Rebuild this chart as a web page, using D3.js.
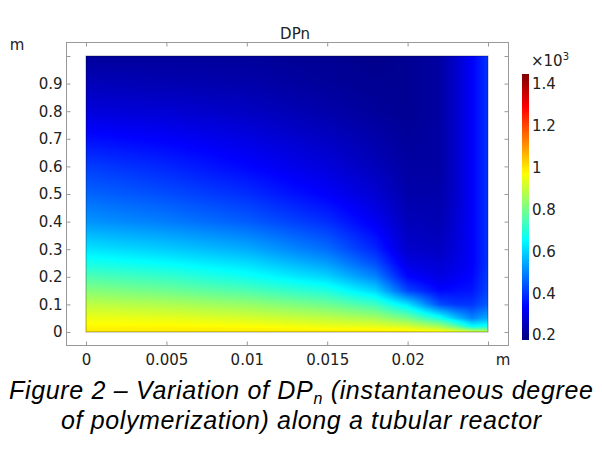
<!DOCTYPE html>
<html>
<head>
<meta charset="utf-8">
<script src="https://cdn.jsdelivr.net/npm/d3@7"></script>
<style>
  body { margin: 0; background: #fff; }
  svg { display: block; }
  .tick text { font-family: "DejaVu Sans", sans-serif; font-size: 15px; fill: #222; }
  .tick line { stroke: #999; }
</style>
</head>
<body>
<div id="chart"></div>
<script>
var xGrid = [0, 0.005, 0.01, 0.015, 0.018, 0.02, 0.022, 0.023, 0.024, 0.025];
var yGrid = [0, 0.02, 0.05, 0.1, 0.15, 0.2, 0.25, 0.3, 0.4, 0.5, 0.6, 0.7, 0.8, 0.9, 1.0];

// DPn (x10^3), one row for each yGrid value, columns follow xGrid
var dpnRows = [
  [1.00, 1.00, 1.00, 1.00, 1.00, 1.00, 0.98, 0.96, 0.93, 0.90],
  [0.98, 0.98, 0.97, 0.95, 0.94, 0.92, 0.86, 0.78, 0.66, 0.68],
  [0.95, 0.94, 0.92, 0.89, 0.86, 0.80, 0.68, 0.58, 0.50, 0.55],
  [0.89, 0.87, 0.84, 0.79, 0.73, 0.62, 0.43, 0.40, 0.40, 0.45],
  [0.82, 0.79, 0.75, 0.69, 0.60, 0.42, 0.34, 0.35, 0.36, 0.42],
  [0.75, 0.72, 0.67, 0.60, 0.50, 0.34, 0.30, 0.32, 0.34, 0.41],
  [0.68, 0.65, 0.61, 0.53, 0.43, 0.30, 0.28, 0.30, 0.33, 0.40],
  [0.62, 0.59, 0.55, 0.47, 0.38, 0.27, 0.26, 0.29, 0.33, 0.40],
  [0.52, 0.49, 0.45, 0.39, 0.32, 0.25, 0.24, 0.28, 0.33, 0.40],
  [0.46, 0.43, 0.39, 0.33, 0.28, 0.23, 0.23, 0.27, 0.33, 0.40],
  [0.41, 0.38, 0.34, 0.29, 0.25, 0.22, 0.22, 0.27, 0.33, 0.40],
  [0.35, 0.33, 0.30, 0.26, 0.23, 0.21, 0.22, 0.27, 0.33, 0.40],
  [0.29, 0.28, 0.26, 0.23, 0.21, 0.20, 0.22, 0.27, 0.33, 0.40],
  [0.25, 0.24, 0.23, 0.21, 0.20, 0.20, 0.22, 0.27, 0.33, 0.40],
  [0.21, 0.21, 0.21, 0.20, 0.19, 0.20, 0.22, 0.27, 0.33, 0.40]
];

var xTicks = [0, 0.005, 0.01, 0.015, 0.02, 0.025];
var xTickLabels = ["0", "0.005", "0.01", "0.015", "0.02", ""];
var yTicks = [0, 0.1, 0.2, 0.3, 0.4, 0.5, 0.6, 0.7, 0.8, 0.9, 1.0];
var yTickLabels = ["0", "0.1", "0.2", "0.3", "0.4", "0.5", "0.6", "0.7", "0.8", "0.9", ""];
var cbTicks = [0.2, 0.4, 0.6, 0.8, 1.0, 1.2, 1.4];
var cbTickLabels = ["0.2", "0.4", "0.6", "0.8", "1", "1.2", "1.4"];
var cRange = [0.176, 1.448];

var width = 602, height = 451;
var frame = {left: 66, right: 508, top: 42, bottom: 345};
var plot = {left: 86, right: 488, top: 56, bottom: 332};

var x = d3.scaleLinear().domain([0, 0.025]).range([plot.left, plot.right]);
var y = d3.scaleLinear().domain([0, 1]).range([plot.bottom, plot.top]);

// jet-like rainbow
var jetStops = [0, 0.125, 0.375, 0.625, 0.875, 1];
var jetColors = ["#00007f", "#0000ff", "#00ffff", "#ffff00", "#ff0000", "#7f0000"];
var color = d3.scaleLinear()
  .domain(jetStops.map(function(t) { return cRange[0] + t * (cRange[1] - cRange[0]); }))
  .range(jetColors)
  .clamp(true);

var svg = d3.select("#chart").append("svg")
  .attr("width", width)
  .attr("height", height);

// surface: shade every pixel from the grid (bilinear between read points)
function valueAt(xv, yv) {
  var i = Math.max(0, Math.min(xGrid.length - 2, d3.bisectRight(xGrid, xv) - 1));
  var j = Math.max(0, Math.min(yGrid.length - 2, d3.bisectRight(yGrid, yv) - 1));
  var tx = (xv - xGrid[i]) / (xGrid[i + 1] - xGrid[i]);
  var ty = (yv - yGrid[j]) / (yGrid[j + 1] - yGrid[j]);
  tx = Math.max(0, Math.min(1, tx)); ty = Math.max(0, Math.min(1, ty));
  var a = dpnRows[j][i], b = dpnRows[j][i + 1], c = dpnRows[j + 1][i], d = dpnRows[j + 1][i + 1];
  return (a * (1 - tx) + b * tx) * (1 - ty) + (c * (1 - tx) + d * tx) * ty;
}

var pw = plot.right - plot.left, ph = plot.bottom - plot.top;
var canvas = document.createElement("canvas");
canvas.width = pw; canvas.height = ph;
var ctx = canvas.getContext("2d");
var img = ctx.createImageData(pw, ph);
for (var py = 0; py < ph; py++) {
  var yv = y.invert(plot.top + py + 0.5);
  for (var px = 0; px < pw; px++) {
    var xv = x.invert(plot.left + px + 0.5);
    var c = d3.rgb(color(valueAt(xv, yv)));
    var k = (py * pw + px) * 4;
    img.data[k] = c.r; img.data[k + 1] = c.g; img.data[k + 2] = c.b; img.data[k + 3] = 255;
  }
}
ctx.putImageData(img, 0, 0);

svg.append("image")
  .attr("x", plot.left).attr("y", plot.top)
  .attr("width", pw).attr("height", ph)
  .attr("preserveAspectRatio", "none")
  .attr("href", canvas.toDataURL());

svg.append("rect")
  .attr("x", plot.left).attr("y", plot.top)
  .attr("width", pw).attr("height", ph)
  .attr("fill", "none")
  .attr("stroke", "#000")
  .attr("stroke-opacity", 0.35);

// frame
svg.append("rect")
  .attr("x", frame.left + 0.5).attr("y", frame.top + 0.5)
  .attr("width", frame.right - frame.left).attr("height", frame.bottom - frame.top)
  .attr("fill", "none")
  .attr("stroke", "#999");

// axes with inward ticks
svg.append("g")
  .attr("transform", "translate(" + (frame.left + 0.5) + ",0)")
  .call(d3.axisLeft(y).tickValues(yTicks).tickSizeInner(-4).tickSizeOuter(0).tickPadding(4)
    .tickFormat(function(d, i) { return yTickLabels[i]; }))
  .call(function(g) { g.select(".domain").remove(); });

svg.append("g")
  .attr("transform", "translate(" + (frame.right + 0.5) + ",0)")
  .call(d3.axisRight(y).tickValues(yTicks).tickSizeInner(-4).tickSizeOuter(0).tickFormat(""))
  .call(function(g) { g.select(".domain").remove(); });

svg.append("g")
  .attr("transform", "translate(0," + (frame.bottom + 0.5) + ")")
  .call(d3.axisBottom(x).tickValues(xTicks).tickSizeInner(-4).tickSizeOuter(0).tickPadding(9)
    .tickFormat(function(d, i) { return xTickLabels[i]; }))
  .call(function(g) { g.select(".domain").remove(); });

svg.append("g")
  .attr("transform", "translate(0," + (frame.top + 0.5) + ")")
  .call(d3.axisTop(x).tickValues(xTicks).tickSizeInner(-4).tickSizeOuter(0).tickFormat(""))
  .call(function(g) { g.select(".domain").remove(); });

// unit labels and title
var labelFont = '"DejaVu Sans", sans-serif';
svg.append("text")
  .attr("x", 17).attr("y", 50)
  .attr("text-anchor", "middle")
  .style("font-family", labelFont).style("font-size", "15px").style("fill", "#222")
  .text("m");
svg.append("text")
  .attr("x", 503).attr("y", 365)
  .attr("text-anchor", "middle")
  .style("font-family", labelFont).style("font-size", "15px").style("fill", "#222")
  .text("m");
svg.append("text")
  .attr("x", 295).attr("y", 39)
  .attr("text-anchor", "middle")
  .style("font-family", labelFont).style("font-size", "15px").style("fill", "#222")
  .text("DPn");

// colour bar
var cb = d3.scaleLinear().domain(cRange).range([340, 74]);
var defs = svg.append("defs");
var grad = defs.append("linearGradient")
  .attr("id", "cbgrad")
  .attr("x1", 0).attr("y1", 1).attr("x2", 0).attr("y2", 0);
grad.selectAll("stop").data(d3.range(0, 1.0001, 0.02))
  .enter().append("stop")
    .attr("offset", function(t) { return t; })
    .attr("stop-color", function(t) { return color(cRange[0] + t * (cRange[1] - cRange[0])); });

svg.append("rect")
  .attr("x", 522).attr("y", cb(cRange[1]))
  .attr("width", 7).attr("height", cb(cRange[0]) - cb(cRange[1]))
  .attr("fill", "url(#cbgrad)");

svg.append("g")
  .selectAll("text").data(cbTicks)
  .enter().append("text")
    .attr("x", 532)
    .attr("y", function(d) { return cb(d); })
    .attr("dy", "0.36em")
    .style("font-family", labelFont).style("font-size", "15px").style("fill", "#222")
    .text(function(d, i) { return cbTickLabels[i]; });

var exp = svg.append("text")
  .attr("x", 531).attr("y", 66)
  .style("font-family", labelFont).style("font-size", "15px").style("fill", "#222");
exp.append("tspan").text("\u00d710");
exp.append("tspan").attr("dy", -6).style("font-size", "10px").text("3");

// caption
var capFont = '"Liberation Sans", Arial, sans-serif';
var cap1 = svg.append("text")
  .attr("x", 301).attr("y", 399)
  .attr("text-anchor", "middle")
  .attr("textLength", 584)
  .style("font-family", capFont).style("font-size", "25px").style("font-style", "italic").style("fill", "#000");
cap1.append("tspan").text("Figure 2 \u2013 Variation of DP");
cap1.append("tspan").attr("dy", 5).style("font-size", "16px").text("n");
cap1.append("tspan").attr("dy", -5).text(" (instantaneous degree");

svg.append("text")
  .attr("x", 301).attr("y", 429)
  .attr("text-anchor", "middle")
  .attr("textLength", 480)
  .style("font-family", capFont).style("font-size", "25px").style("font-style", "italic").style("fill", "#000")
  .text("of polymerization) along a tubular reactor");
</script>
</body>
</html>
